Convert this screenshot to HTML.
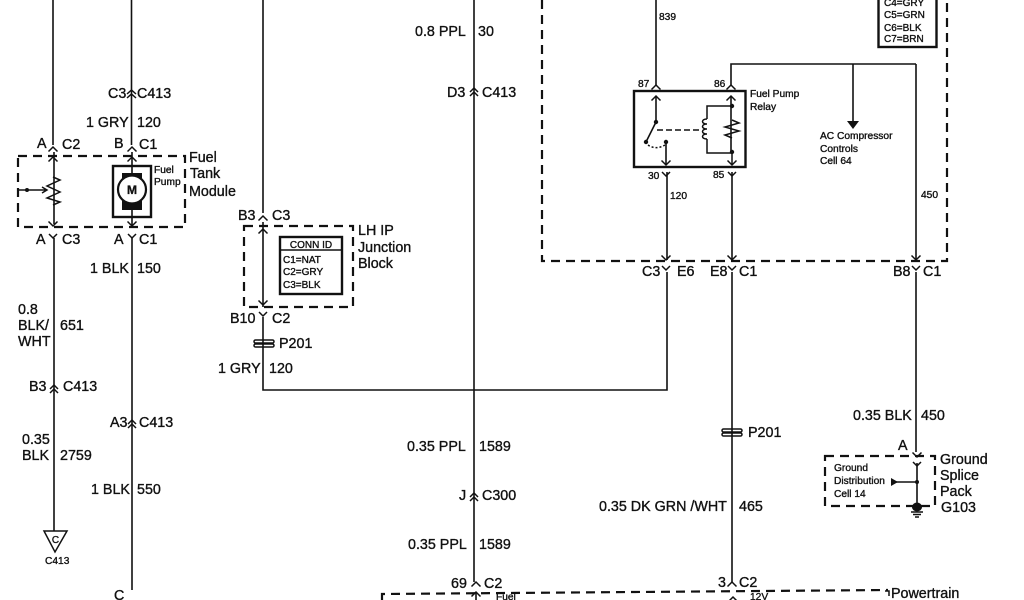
<!DOCTYPE html>
<html><head><meta charset="utf-8"><style>
html,body{margin:0;padding:0;background:#fff;width:1024px;height:600px;overflow:hidden}
svg{display:block}
text{font-family:"Liberation Sans",sans-serif;fill:#111;stroke:#111;stroke-width:.35}
.l{font-size:14.3px}
.m{font-size:10.2px}
.c{font-size:10px}
.w{fill:none;stroke:#111;stroke-width:1.6}
.t{fill:none;stroke:#111;stroke-width:1.5}
.d{fill:none;stroke:#111;stroke-width:2.2;stroke-dasharray:9 6}
.b{fill:none;stroke:#111;stroke-width:2.4}
</style></head><body>
<svg width="1024" height="600" viewBox="0 0 1024 600" xmlns="http://www.w3.org/2000/svg">
<defs>
<path id="up" class="t" d="M-4.500 4.500 L0 0 L4.500 4.500"/>
<path id="dn" class="t" d="M-4.500 -4.500 L0 0 L4.500 -4.500"/>
</defs>

<!-- Wires -->
<path class="w" d="M53 0V145M54 152V224M54 238V531"/>
<path class="w" d="M131.500 0V145M132 152V228M132 238V590"/>
<path class="w" d="M263 0V213M263 222V307M263 317V390H667V272M667 172V260"/>
<path class="w" d="M474 0V582M476 592V600"/>
<path class="w" d="M732 172V262M732 272V582"/>
<path class="w" d="M656 0V85M731 85V64H916"/>
<path class="w" d="M853 64V122"/>
<path class="w" d="M916 64V261M916 272V452M917 463V508"/>

<!-- Module dashed -->
<path class="d" d="M18 156H185V227H18Z"/>
<path class="d" d="M244 226H353V307H244Z"/>
<path class="d" d="M542 0V261H947V0"/>
<path class="d" d="M825 456H935V506H825Z"/>
<path class="d" d="M382 600V594L888 590"/>
<path class="t" d="M885 591H889V596" />

<!-- Connectors -->
<use href="#up" x="53" y="147"/><use href="#up" x="132" y="147"/>
<use href="#up" x="53" y="157"/><use href="#up" x="132" y="157"/>
<use href="#dn" x="53" y="226"/><use href="#dn" x="132" y="226"/>
<path class="t" d="M49 234L53 238L57 234M128 234L132 238L136 234"/>
<path class="t" d="M127 94L131.500 90L136 94M127 98L131.500 94L136 98"/>
<path class="t" d="M50 389L54 385L58 389M50 393L54 389L58 393"/>
<path class="t" d="M128 424L132 420L136 424M128 428L132 424L136 428"/>
<path class="t" d="M470 92L474 88L478 92M470 96L474 92L478 96"/>
<path class="t" d="M470 497L474 493L478 497M470 501L474 497L478 501"/>
<use href="#up" x="263" y="216"/><use href="#up" x="263" y="229"/><use href="#dn" x="263" y="305"/>
<path class="t" d="M259 312L263 316L267 312"/>
<use href="#up" x="476" y="582"/><use href="#up" x="476" y="592"/>
<use href="#up" x="732" y="582"/><use href="#up" x="733" y="597"/>
<use href="#up" x="656" y="85"/><use href="#up" x="656" y="96"/>
<use href="#up" x="731" y="85"/><use href="#up" x="731" y="96"/>
<use href="#dn" x="666" y="165"/><use href="#dn" x="732" y="165"/>
<path class="t" d="M662 172L666 176L670 172M728 172L732 176L736 172"/>
<use href="#dn" x="666" y="260"/><use href="#dn" x="732" y="260"/><use href="#dn" x="916" y="260"/>
<path class="t" d="M662 266L666 270L670 266M728 266L732 270L736 266M912 266L916 270L920 266"/>
<use href="#dn" x="917" y="457"/>
<path class="t" d="M913 462L917 466L921 462"/>

<!-- Potentiometer -->
<path class="t" d="M53 177L60 180L47 186L60 192L47 198L60 202L53 205"/>
<path class="t" d="M19 190H46M42 187L47 190L42 193"/>
<circle cx="27" cy="190" r="2" fill="#111"/>

<!-- Motor -->
<rect x="113" y="166" width="38" height="51" class="b"/>
<rect x="122" y="173" width="20" height="37" fill="#111"/>
<circle cx="132" cy="189.500" r="14" fill="#fff" stroke="#111" stroke-width="2.200"/>
<text x="132" y="194" text-anchor="middle" style="font-size:12px;font-weight:bold">M</text>
<text class="m" x="154" y="173">Fuel</text><text class="m" x="154" y="185">Pump</text>

<!-- Conn ID -->
<rect x="280" y="237" width="62" height="57" class="b"/>
<path class="t" d="M280 250H342"/>
<text class="c" x="311" y="248" text-anchor="middle">CONN ID</text>
<text class="c" x="283" y="263">C1=NAT</text><text class="c" x="283" y="275">C2=GRY</text><text class="c" x="283" y="288">C3=BLK</text>
<rect x="878.500" y="-5" width="58" height="52" class="b"/>
<text class="c" x="884" y="6">C4=GRY</text><text class="c" x="884" y="18">C5=GRN</text><text class="c" x="884" y="31">C6=BLK</text><text class="c" x="884" y="42">C7=BRN</text>

<!-- Splice P201 -->
<rect x="254" y="340" width="20" height="3" rx="1.500" class="t"/><rect x="254" y="344" width="20" height="3" rx="1.500" class="t"/>
<rect x="722" y="429" width="20" height="3" rx="1.500" class="t"/><rect x="722" y="433" width="20" height="3" rx="1.500" class="t"/>

<!-- Relay -->
<rect x="634" y="91" width="111.500" height="76" class="b"/>
<path class="w" d="M656 96V122L646 142"/>
<path class="w" d="M666 142V165M731 96V153"/>
<circle cx="656" cy="122" r="2.200" fill="#111"/><circle cx="646" cy="142" r="2.200" fill="#111"/><circle cx="666" cy="142" r="2.200" fill="#111"/>
<circle cx="732" cy="106" r="2.200" fill="#111"/><circle cx="732" cy="152" r="2.200" fill="#111"/>
<path class="t" d="M732 106H707V119M707 139V153H732M732 153V165"/>
<path class="t" d="M707 119C701 119 701 124 707 124C701 124 701 129 707 129C701 129 701 134 707 134C701 134 701 139 707 139"/>
<path class="t" d="M732 120L739 123L725 127L739 131L725 135L732 138" />
<path class="t" stroke-dasharray="6 3" d="M657 130H700"/>
<path class="t" stroke-dasharray="2 2" d="M648 145C654 149 660 148 665 145"/>
<path d="M847 121H859L853 129Z" fill="#111"/>

<!-- Ground -->
<path class="t" d="M891 482H917"/>
<path d="M891 478V486L898 482Z" fill="#111"/>
<circle cx="917" cy="482" r="2" fill="#111"/>
<ellipse cx="917" cy="507" rx="5" ry="4.500" fill="#111"/>
<path class="t" d="M911 512H923M913 514.500H921M915 517H919"/>

<!-- Triangle -->
<path class="t" d="M44 531H67L55 552Z" stroke-width="1.600"/>

<!-- Labels -->
<g class="l">
<text x="37" y="148">A</text><text x="62" y="149">C2</text>
<text x="114" y="148">B</text><text x="139" y="149">C1</text>
<text x="36" y="244">A</text><text x="62" y="244">C3</text>
<text x="114" y="244">A</text><text x="139" y="244">C1</text>
<text x="108" y="98">C3</text><text x="137" y="98">C413</text>
<text x="86" y="127">1 GRY</text><text x="137" y="127">120</text>
<text x="189" y="162">Fuel</text><text x="190" y="178">Tank</text><text x="189" y="196">Module</text>
<text x="90" y="273">1 BLK</text><text x="137" y="273">150</text>
<text x="18" y="314">0.8</text><text x="18" y="330">BLK/</text><text x="18" y="346">WHT</text><text x="60" y="330">651</text>
<text x="29" y="391">B3</text><text x="63" y="391">C413</text>
<text x="110" y="427">A3</text><text x="139" y="427">C413</text>
<text x="22" y="444">0.35</text><text x="22" y="460">BLK</text><text x="60" y="460">2759</text>
<text x="91" y="494">1 BLK</text><text x="137" y="494">550</text>
<text x="114" y="600">C</text>
<text x="238" y="220">B3</text><text x="272" y="220">C3</text>
<text x="358" y="235">LH IP</text><text x="358" y="252">Junction</text><text x="358" y="268">Block</text>
<text x="230" y="323">B10</text><text x="272" y="323">C2</text>
<text x="279" y="348">P201</text>
<text x="218" y="373">1 GRY</text><text x="269" y="373">120</text>
<text x="415" y="36">0.8 PPL</text><text x="478" y="36">30</text>
<text x="447" y="97">D3</text><text x="482" y="97">C413</text>
<text x="407" y="451">0.35 PPL</text><text x="479" y="451">1589</text>
<text x="459" y="500">J</text><text x="482" y="500">C300</text>
<text x="408" y="549">0.35 PPL</text><text x="479" y="549">1589</text>
<text x="451" y="588">69</text><text x="484" y="588">C2</text>
<text x="599" y="511">0.35 DK GRN /WHT</text><text x="739" y="511">465</text>
<text x="748" y="437">P201</text>
<text x="718" y="587">3</text><text x="739" y="587">C2</text>
<text x="642" y="276">C3</text><text x="677" y="276">E6</text>
<text x="710" y="276">E8</text><text x="739" y="276">C1</text>
<text x="893" y="276">B8</text><text x="923" y="276">C1</text>
<text x="853" y="420">0.35 BLK</text><text x="921" y="420">450</text>
<text x="898" y="450">A</text>
<text x="940" y="464">Ground</text><text x="940" y="480">Splice</text><text x="940" y="496">Pack</text><text x="941" y="512">G103</text>
<text x="891" y="598">Powertrain</text>
</g>
<g class="m">
<text x="659" y="20">839</text>
<text x="638" y="87">87</text><text x="714" y="87">86</text>
<text x="750" y="97">Fuel Pump</text><text x="750" y="110">Relay</text>
<text x="648" y="179">30</text><text x="713" y="178">85</text>
<text x="670" y="199">120</text><text x="921" y="198">450</text>
<text x="820" y="139">AC Compressor</text><text x="820" y="152">Controls</text><text x="820" y="164">Cell 64</text>
<text x="834" y="471">Ground</text><text x="834" y="484">Distribution</text><text x="834" y="497">Cell 14</text>
<text x="45" y="564">C413</text>
<text x="496" y="600">Fuel</text><text x="750" y="600">12V</text>
</g>
<text x="55.500" y="543" text-anchor="middle" style="font-size:10px">C</text>
</svg>
</body></html>
